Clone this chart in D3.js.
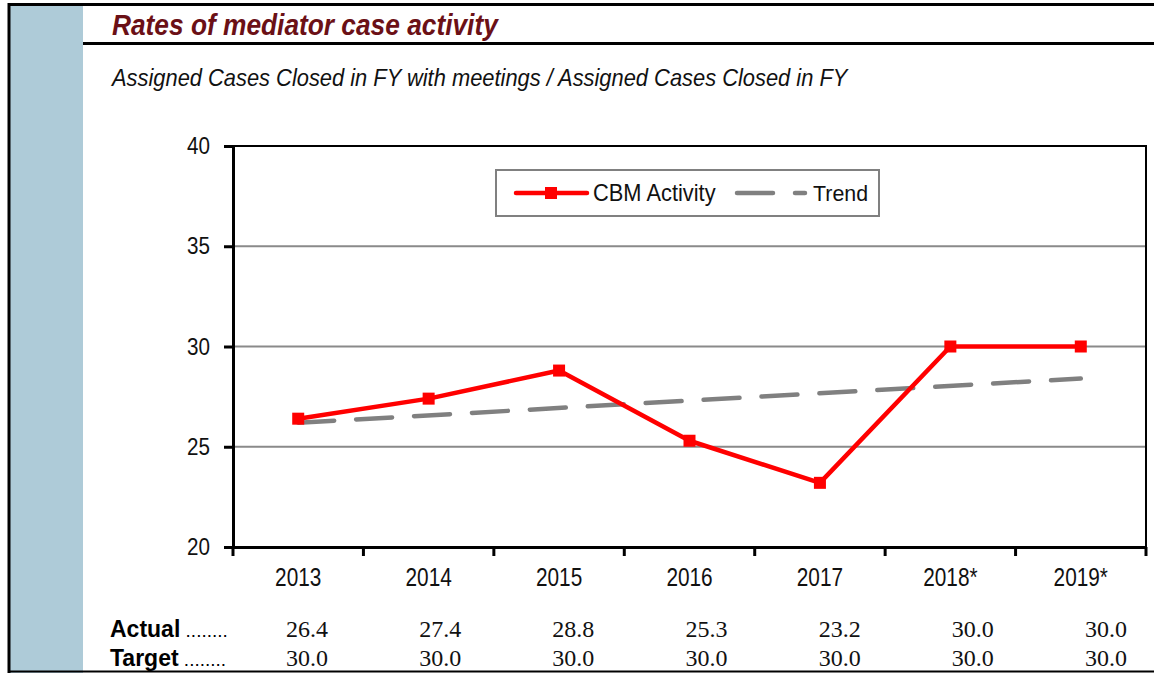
<!DOCTYPE html>
<html>
<head>
<meta charset="utf-8">
<script src="https://cdn.jsdelivr.net/npm/d3@7"></script>
<style>
  body { margin: 0; background: #fff; }
  text { font-family: "Liberation Sans", Arial, sans-serif; }
  .num { font-family: "Liberation Serif", "Times New Roman", serif; }
</style>
</head>
<body>
<script>
// chart data
const years = ["2013", "2014", "2015", "2016", "2017", "2018*", "2019*"];
const actual = [26.4, 27.4, 28.8, 25.3, 23.2, 30.0, 30.0];
const target = [30.0, 30.0, 30.0, 30.0, 30.0, 30.0, 30.0];
// trend line end points
const trendYears = ["2013", "2019*"];
const trendValues = [26.2, 28.4];
const yTicks = [20, 25, 30, 35, 40];

const W = 1154, H = 673;
const svg = d3.select("body").append("svg")
    .attr("width", W)
    .attr("height", H);

// narrow text: Arial Narrow is not installed, so squeeze Liberation Sans
function label(parent, x, y, str, size, sx) {
    return parent.append("text")
        .attr("transform", `translate(${x},${y}) scale(${sx},1)`)
        .style("font-size", size + "px")
        .text(str);
}

// page frame
svg.append("rect").attr("x", 10).attr("y", 5).attr("width", 73).attr("height", H - 5).attr("fill", "#aecbd8");
svg.append("line").attr("x1", 9).attr("x2", 9).attr("y1", 3).attr("y2", H).attr("stroke", "#000").attr("stroke-width", 3);
svg.append("line").attr("x1", 8).attr("x2", W).attr("y1", 4.5).attr("y2", 4.5).attr("stroke", "#000").attr("stroke-width", 3);
svg.append("line").attr("x1", 83).attr("x2", W).attr("y1", 43.5).attr("y2", 43.5).attr("stroke", "#000").attr("stroke-width", 3);
svg.append("line").attr("x1", 8).attr("x2", W).attr("y1", 671.5).attr("y2", 671.5).attr("stroke", "#000").attr("stroke-width", 2);

label(svg, 112, 35, "Rates of mediator case activity", 29, 0.907)
    .attr("fill", "#6b1016")
    .style("font-weight", "bold").style("font-style", "italic");

label(svg, 112, 86, "Assigned Cases Closed in FY with meetings / Assigned Cases Closed in FY", 23, 0.951)
    .attr("fill", "#111")
    .style("font-style", "italic");

// plot
const plot = { left: 233, right: 1146, top: 146, bottom: 547 };

const x = d3.scaleBand().domain(years).range([plot.left, plot.right]);
const y = d3.scaleLinear().domain([20, 40]).range([plot.bottom, plot.top]);
const cx = d => x(d) + x.bandwidth() / 2;

const g = svg.append("g");

// gridlines
g.selectAll(".grid")
    .data(yTicks.filter(t => t > 20 && t < 40))
    .enter().append("line")
    .attr("x1", plot.left).attr("x2", plot.right)
    .attr("y1", d => y(d)).attr("y2", d => y(d))
    .attr("stroke", "#8a8a8a").attr("stroke-width", 2);

// plot border top/right
g.append("path")
    .attr("d", `M${plot.left},${plot.top}H${plot.right}V${plot.bottom}`)
    .attr("fill", "none").attr("stroke", "#000").attr("stroke-width", 2);

// y axis
const ySx = 0.86;
const yAxis = g.append("g")
    .attr("transform", `translate(${plot.left},0)`)
    .call(d3.axisLeft(y).tickValues(yTicks).tickSize(9));
yAxis.select(".domain").attr("stroke-width", 3);
yAxis.selectAll(".tick line").attr("stroke-width", 3);
yAxis.selectAll("text")
    .attr("x", -23 / ySx)
    .attr("transform", `scale(${ySx},1)`)
    .style("font-size", "24px").attr("fill", "#111");

// x axis: labels centred in bands, ticks at band edges
const xAxis = g.append("g")
    .attr("transform", `translate(0,${plot.bottom})`)
    .call(d3.axisBottom(x).tickSize(0).tickPadding(21));
xAxis.select(".domain").attr("stroke-width", 3);
xAxis.selectAll("text")
    .attr("transform", "scale(0.8,1)")
    .style("font-size", "26px").attr("fill", "#111");
xAxis.selectAll(".edge")
    .data(years.map(d => x(d)).concat([plot.right]))
    .enter().append("line")
    .attr("x1", d => d).attr("x2", d => d)
    .attr("y1", 0).attr("y2", 9)
    .attr("stroke", "#000").attr("stroke-width", 3);

// trend
const line = d3.line().x(d => cx(d[0])).y(d => y(d[1]));
g.append("path")
    .datum(trendYears.map((d, i) => [d, trendValues[i]]))
    .attr("d", line)
    .attr("fill", "none").attr("stroke", "#808080").attr("stroke-width", 4.5)
    .attr("stroke-linecap", "round").attr("stroke-dasharray", "36 22");

// CBM activity
const series = years.map((d, i) => [d, actual[i]]);
g.append("path")
    .datum(series)
    .attr("d", line)
    .attr("fill", "none").attr("stroke", "#ff0000").attr("stroke-width", 4.5)
    .attr("stroke-linejoin", "round");
g.selectAll(".mk")
    .data(series)
    .enter().append("rect")
    .attr("x", d => cx(d[0]) - 6).attr("y", d => y(d[1]) - 6)
    .attr("width", 12).attr("height", 12)
    .attr("fill", "#ff0000");

// legend
const lg = svg.append("g").attr("transform", "translate(496,170)");
lg.append("rect").attr("width", 383).attr("height", 46)
    .attr("fill", "#fff").attr("stroke", "#808080").attr("stroke-width", 2);
lg.append("line").attr("x1", 20).attr("x2", 91).attr("y1", 23).attr("y2", 23)
    .attr("stroke", "#ff0000").attr("stroke-width", 4.5).attr("stroke-linecap", "round");
lg.append("rect").attr("x", 49).attr("y", 17).attr("width", 12).attr("height", 12).attr("fill", "#ff0000");
label(lg, 97, 31, "CBM Activity", 23, 0.95).attr("fill", "#111");
lg.append("line").attr("x1", 241).attr("x2", 309).attr("y1", 23).attr("y2", 23)
    .attr("stroke", "#808080").attr("stroke-width", 4.5).attr("stroke-linecap", "round")
    .attr("stroke-dasharray", "36 22");
label(lg, 317, 31, "Trend", 23, 0.93).attr("fill", "#111");

// data table below the chart
const tx = d3.scalePoint().domain(years).range([307, 1106]);
const rows = [["Actual", actual, 637], ["Target", target, 666]];
rows.forEach(r => {
    const t = label(svg, 110, r[2], "", 23, 1).attr("fill", "#000");
    t.append("tspan").style("font-weight", "bold").text(r[0]);
    t.append("tspan").style("font-size", "19px").text(" ........");
    svg.selectAll(null)
        .data(r[1])
        .enter().append("text")
        .attr("class", "num")
        .attr("x", (d, i) => tx(years[i]))
        .attr("y", r[2])
        .attr("text-anchor", "middle")
        .style("font-size", "24px").attr("fill", "#111")
        .text(d => d.toFixed(1));
});
</script>
</body>
</html>
